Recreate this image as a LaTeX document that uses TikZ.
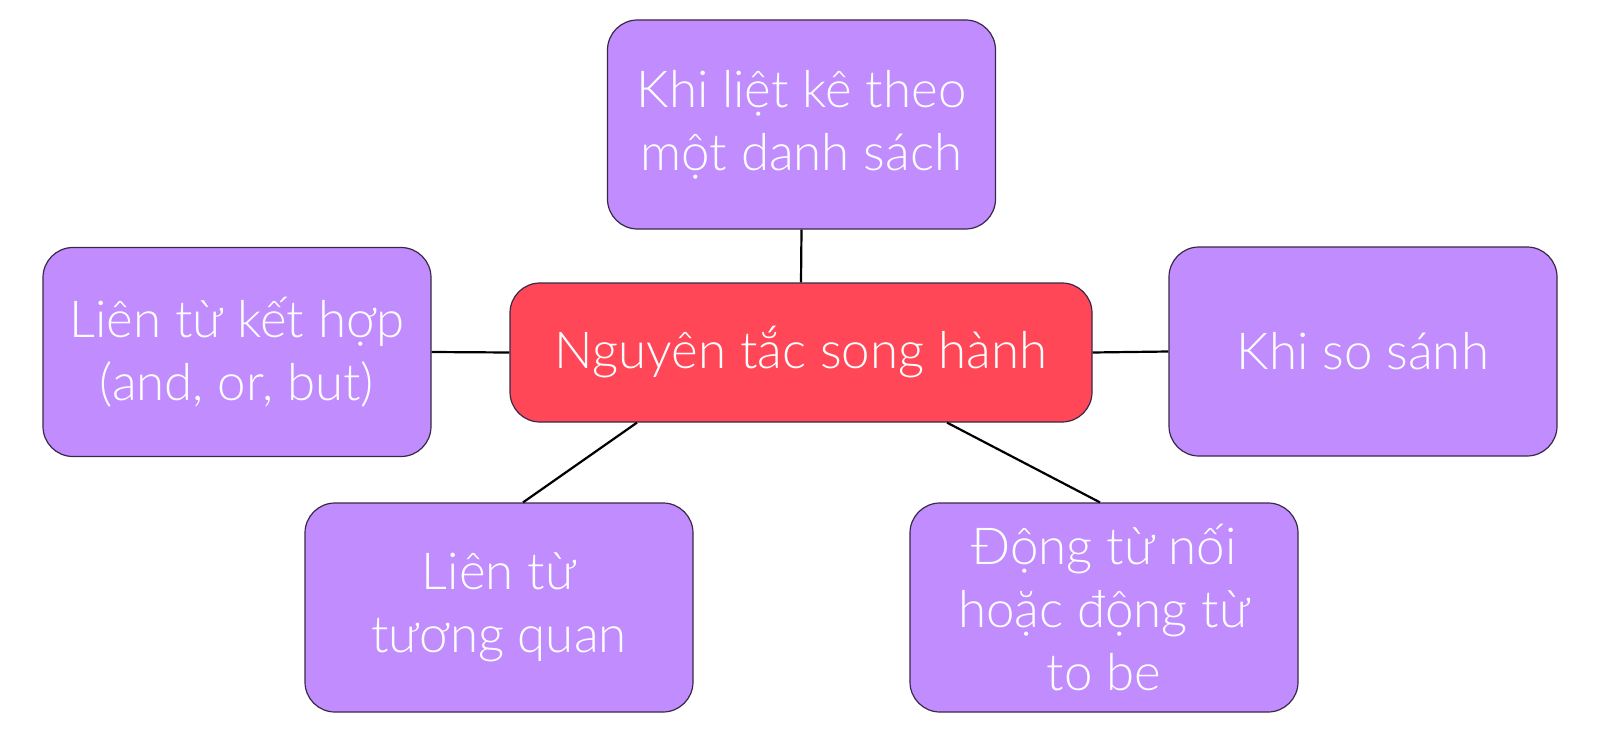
\documentclass[tikz,border=0pt]{standalone}
\usepackage{fontspec}
\setmainfont{Lato}[UprightFont={* Light}]
\definecolor{boxpurple}{HTML}{C18CFE}
\definecolor{boxred}{HTML}{FF4757}
\definecolor{boxline}{HTML}{3A2848}
\begin{document}
\begin{tikzpicture}[x=0.5pt,y=-0.5pt,
  box/.style={draw=boxline, line width=0.6pt, rounded corners=15pt, inner sep=0pt,
    minimum width=194pt, minimum height=104.5pt, fill=boxpurple, text=white,
    align=center, font=\fontsize{25.5}{31.5}\selectfont},
  mainbox/.style={box, fill=boxred, minimum width=291pt, minimum height=69.5pt},
  link/.style={draw=black, line width=1.1pt}]
\useasboundingbox (0,0) rectangle (1600,733);
\node[mainbox] (c) at (801,352.5) {Nguyên tắc song hành};
\node[box] (t) at (801.5,124.5) {Khi liệt kê theo\\một danh sách};
\node[box] (l) at (237,352) {Liên từ kết hợp\\(and, or, but)};
\node[box] (r) at (1363,351.5) {Khi so sánh};
\node[box] (bl) at (499,607.5) {Liên từ\\tương quan};
\node[box] (br) at (1104,607.5) {Động từ nối\\hoặc động từ\\to be};
\draw[link] (t.south) -- (c.north);
\draw[link] (l.east) -- (c.west);
\draw[link] (c.east) -- (r.west);
\draw[link] ([xshift=-82pt]c.south) -- ([xshift=12pt]bl.north);
\draw[link] ([xshift=73pt]c.south) -- ([xshift=-2pt]br.north);
\end{tikzpicture}
\end{document}
